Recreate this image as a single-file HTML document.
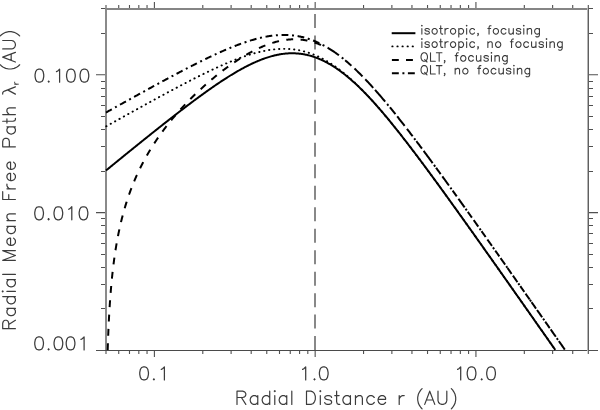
<!DOCTYPE html><html><head><meta charset="utf-8"><style>html,body{margin:0;padding:0;background:#fff;overflow:hidden}svg{display:block}text{font-family:"Liberation Sans",sans-serif;-webkit-font-smoothing:antialiased}svg{will-change:transform}</style></head><body>
<svg width="600" height="410" viewBox="0 0 600 410">
<rect width="600" height="410" fill="#fff"/>
<line x1="315" y1="13.9" x2="315" y2="350" stroke="#888" stroke-width="2" stroke-dasharray="14 7.48"/>
<path d="M154.40,350.5V357M154.40,9.0V2M315.16,350.5V357M315.16,9.0V2M475.93,350.5V357M475.93,9.0V2M106.00,350.5V354M106.00,9.0V5M118.73,350.5V354M118.73,9.0V5M129.49,350.5V354M129.49,9.0V5M138.82,350.5V354M138.82,9.0V5M147.04,350.5V354M147.04,9.0V5M202.79,350.5V354M202.79,9.0V5M231.10,350.5V354M231.10,9.0V5M251.19,350.5V354M251.19,9.0V5M266.77,350.5V354M266.77,9.0V5M279.50,350.5V354M279.50,9.0V5M290.26,350.5V354M290.26,9.0V5M299.58,350.5V354M299.58,9.0V5M307.81,350.5V354M307.81,9.0V5M363.56,350.5V354M363.56,9.0V5M391.87,350.5V354M391.87,9.0V5M411.95,350.5V354M411.95,9.0V5M427.53,350.5V354M427.53,9.0V5M440.26,350.5V354M440.26,9.0V5M451.03,350.5V354M451.03,9.0V5M460.35,350.5V354M460.35,9.0V5M468.57,350.5V354M468.57,9.0V5M524.32,350.5V354M524.32,9.0V5M552.63,350.5V354M552.63,9.0V5M572.72,350.5V354M572.72,9.0V5M588.30,350.5V354M588.30,9.0V5M106.0,350.50H96M588.3,350.50H598M106.0,212.64H96M588.3,212.64H598M106.0,74.78H96M588.3,74.78H598M106.0,308.50H101M588.3,308.50H593M106.0,284.50H101M588.3,284.50H593M106.0,267.50H101M588.3,267.50H593M106.0,254.50H101M588.3,254.50H593M106.0,243.50H101M588.3,243.50H593M106.0,233.50H101M588.3,233.50H593M106.0,225.50H101M588.3,225.50H593M106.0,218.50H101M588.3,218.50H593M106.0,171.50H101M588.3,171.50H593M106.0,146.50H101M588.3,146.50H593M106.0,129.50H101M588.3,129.50H593M106.0,116.50H101M588.3,116.50H593M106.0,105.50H101M588.3,105.50H593M106.0,96.50H101M588.3,96.50H593M106.0,88.50H101M588.3,88.50H593M106.0,81.50H101M588.3,81.50H593M106.0,33.50H101M588.3,33.50H593M106.0,8.50H101M588.3,8.50H593" stroke="#505050" stroke-width="1.1" fill="none"/>
<rect x="105" y="8" width="2" height="343" fill="#8a8a8a"/>
<rect x="105" y="8" width="484" height="2" fill="#858585"/>
<rect x="105" y="350" width="484" height="1" fill="#4a4a4a"/>
<rect x="587" y="8" width="1" height="343" fill="#b5b5b5"/>
<rect x="588" y="8" width="1" height="343" fill="#606060"/>
<path d="M106.00,170.47 L106.81,169.82 L107.61,169.16 L108.42,168.50 L109.22,167.85 L110.03,167.19 L110.83,166.53 L111.64,165.88 L112.44,165.22 L113.25,164.57 L114.05,163.91 L114.86,163.26 L115.66,162.60 L116.47,161.94 L117.27,161.29 L118.08,160.63 L118.88,159.98 L119.69,159.32 L120.49,158.67 L121.30,158.02 L122.10,157.36 L122.91,156.71 L123.71,156.05 L124.52,155.40 L125.32,154.75 L126.13,154.09 L126.93,153.44 L127.74,152.79 L128.54,152.14 L129.35,151.48 L130.16,150.83 L130.96,150.18 L131.77,149.53 L132.57,148.88 L133.38,148.23 L134.18,147.58 L134.99,146.93 L135.79,146.28 L136.60,145.63 L137.40,144.98 L138.21,144.33 L139.01,143.68 L139.82,143.03 L140.62,142.38 L141.43,141.73 L142.23,141.09 L143.04,140.44 L143.84,139.79 L144.65,139.15 L145.45,138.50 L146.26,137.85 L147.06,137.21 L147.87,136.56 L148.67,135.92 L149.48,135.27 L150.28,134.63 L151.09,133.99 L151.89,133.34 L152.70,132.70 L153.51,132.06 L154.31,131.42 L155.12,130.78 L155.92,130.13 L156.73,129.49 L157.53,128.85 L158.34,128.22 L159.14,127.58 L159.95,126.94 L160.75,126.30 L161.56,125.66 L162.36,125.03 L163.17,124.39 L163.97,123.76 L164.78,123.12 L165.58,122.49 L166.39,121.85 L167.19,121.22 L168.00,120.59 L168.80,119.96 L169.61,119.33 L170.41,118.70 L171.22,118.07 L172.02,117.44 L172.83,116.81 L173.63,116.18 L174.44,115.56 L175.25,114.93 L176.05,114.31 L176.86,113.69 L177.66,113.06 L178.47,112.44 L179.27,111.82 L180.08,111.20 L180.88,110.58 L181.69,109.96 L182.49,109.35 L183.30,108.73 L184.10,108.11 L184.91,107.50 L185.71,106.89 L186.52,106.28 L187.32,105.67 L188.13,105.06 L188.93,104.45 L189.74,103.84 L190.54,103.24 L191.35,102.63 L192.15,102.03 L192.96,101.43 L193.76,100.82 L194.57,100.23 L195.37,99.63 L196.18,99.03 L196.98,98.44 L197.79,97.84 L198.60,97.25 L199.40,96.66 L200.21,96.07 L201.01,95.48 L201.82,94.90 L202.62,94.32 L203.43,93.73 L204.23,93.15 L205.04,92.57 L205.84,92.00 L206.65,91.42 L207.45,90.85 L208.26,90.28 L209.06,89.71 L209.87,89.14 L210.67,88.58 L211.48,88.02 L212.28,87.46 L213.09,86.90 L213.89,86.34 L214.70,85.79 L215.50,85.24 L216.31,84.69 L217.11,84.14 L217.92,83.60 L218.72,83.05 L219.53,82.52 L220.33,81.98 L221.14,81.45 L221.95,80.92 L222.75,80.39 L223.56,79.86 L224.36,79.34 L225.17,78.82 L225.97,78.30 L226.78,77.79 L227.58,77.28 L228.39,76.77 L229.19,76.27 L230.00,75.77 L230.80,75.27 L231.61,74.78 L232.41,74.29 L233.22,73.80 L234.02,73.32 L234.83,72.84 L235.63,72.37 L236.44,71.89 L237.24,71.43 L238.05,70.96 L238.85,70.50 L239.66,70.05 L240.46,69.60 L241.27,69.15 L242.07,68.71 L242.88,68.27 L243.68,67.84 L244.49,67.41 L245.30,66.98 L246.10,66.57 L246.91,66.15 L247.71,65.74 L248.52,65.34 L249.32,64.94 L250.13,64.54 L250.93,64.15 L251.74,63.77 L252.54,63.39 L253.35,63.02 L254.15,62.65 L254.96,62.29 L255.76,61.93 L256.57,61.58 L257.37,61.24 L258.18,60.90 L258.98,60.57 L259.79,60.24 L260.59,59.92 L261.40,59.61 L262.20,59.30 L263.01,59.00 L263.81,58.71 L264.62,58.42 L265.42,58.14 L266.23,57.86 L267.04,57.60 L267.84,57.34 L268.65,57.09 L269.45,56.84 L270.26,56.60 L271.06,56.37 L271.87,56.15 L272.67,55.94 L273.48,55.73 L274.28,55.53 L275.09,55.34 L275.89,55.15 L276.70,54.98 L277.50,54.81 L278.31,54.65 L279.11,54.50 L279.92,54.36 L280.72,54.22 L281.53,54.10 L282.33,53.98 L283.14,53.87 L283.94,53.77 L284.75,53.68 L285.55,53.60 L286.36,53.53 L287.16,53.47 L287.97,53.41 L288.77,53.37 L289.58,53.33 L290.39,53.30 L291.19,53.29 L292.00,53.28 L292.80,53.28 L293.61,53.29 L294.41,53.31 L295.22,53.35 L296.02,53.39 L296.83,53.44 L297.63,53.50 L298.44,53.57 L299.24,53.65 L300.05,53.74 L300.85,53.84 L301.66,53.95 L302.46,54.07 L303.27,54.20 L304.07,54.34 L304.88,54.49 L305.68,54.65 L306.49,54.82 L307.29,55.00 L308.10,55.19 L308.90,55.40 L309.71,55.61 L310.51,55.83 L311.32,56.06 L312.12,56.31 L312.93,56.56 L313.74,56.82 L314.54,57.10 L315.35,57.38 L316.15,57.68 L316.96,57.98 L317.76,58.30 L318.57,58.62 L319.37,58.96 L320.18,59.30 L320.98,59.66 L321.79,60.02 L322.59,60.40 L323.40,60.79 L324.20,61.18 L325.01,61.59 L325.81,62.00 L326.62,62.43 L327.42,62.86 L328.23,63.31 L329.03,63.77 L329.84,64.23 L330.64,64.70 L331.45,65.19 L332.25,65.68 L333.06,66.18 L333.86,66.70 L334.67,67.22 L335.47,67.75 L336.28,68.29 L337.09,68.84 L337.89,69.40 L338.70,69.97 L339.50,70.54 L340.31,71.13 L341.11,71.72 L341.92,72.33 L342.72,72.94 L343.53,73.56 L344.33,74.19 L345.14,74.82 L345.94,75.47 L346.75,76.12 L347.55,76.78 L348.36,77.45 L349.16,78.13 L349.97,78.82 L350.77,79.51 L351.58,80.22 L352.38,80.93 L353.19,81.64 L353.99,82.37 L354.80,83.10 L355.60,83.84 L356.41,84.59 L357.21,85.34 L358.02,86.11 L358.83,86.88 L359.63,87.65 L360.44,88.44 L361.24,89.23 L362.05,90.03 L362.85,90.83 L363.66,91.64 L364.46,92.46 L365.27,93.28 L366.07,94.11 L366.88,94.95 L367.68,95.80 L368.49,96.65 L369.29,97.50 L370.10,98.36 L370.90,99.23 L371.71,100.11 L372.51,100.99 L373.32,101.87 L374.12,102.76 L374.93,103.66 L375.73,104.56 L376.54,105.47 L377.34,106.38 L378.15,107.30 L378.95,108.22 L379.76,109.15 L380.56,110.08 L381.37,111.02 L382.18,111.96 L382.98,112.91 L383.79,113.86 L384.59,114.81 L385.40,115.77 L386.20,116.74 L387.01,117.70 L387.81,118.67 L388.62,119.65 L389.42,120.63 L390.23,121.61 L391.03,122.60 L391.84,123.59 L392.64,124.58 L393.45,125.58 L394.25,126.58 L395.06,127.58 L395.86,128.58 L396.67,129.59 L397.47,130.61 L398.28,131.62 L399.08,132.64 L399.89,133.66 L400.69,134.68 L401.50,135.71 L402.30,136.74 L403.11,137.77 L403.91,138.80 L404.72,139.84 L405.53,140.88 L406.33,141.92 L407.14,142.96 L407.94,144.01 L408.75,145.06 L409.55,146.11 L410.36,147.16 L411.16,148.21 L411.97,149.27 L412.77,150.33 L413.58,151.39 L414.38,152.45 L415.19,153.52 L415.99,154.58 L416.80,155.65 L417.60,156.72 L418.41,157.79 L419.21,158.87 L420.02,159.94 L420.82,161.02 L421.63,162.10 L422.43,163.18 L423.24,164.26 L424.04,165.34 L424.85,166.43 L425.65,167.51 L426.46,168.60 L427.26,169.69 L428.07,170.78 L428.88,171.87 L429.68,172.96 L430.49,174.05 L431.29,175.15 L432.10,176.25 L432.90,177.34 L433.71,178.44 L434.51,179.54 L435.32,180.64 L436.12,181.75 L436.93,182.85 L437.73,183.95 L438.54,185.06 L439.34,186.16 L440.15,187.27 L440.95,188.38 L441.76,189.49 L442.56,190.60 L443.37,191.71 L444.17,192.82 L444.98,193.93 L445.78,195.05 L446.59,196.16 L447.39,197.27 L448.20,198.39 L449.00,199.51 L449.81,200.62 L450.62,201.74 L451.42,202.86 L452.23,203.98 L453.03,205.10 L453.84,206.22 L454.64,207.34 L455.45,208.46 L456.25,209.59 L457.06,210.71 L457.86,211.83 L458.67,212.96 L459.47,214.08 L460.28,215.21 L461.08,216.34 L461.89,217.46 L462.69,218.59 L463.50,219.72 L464.30,220.85 L465.11,221.97 L465.91,223.10 L466.72,224.23 L467.52,225.36 L468.33,226.49 L469.13,227.62 L469.94,228.76 L470.74,229.89 L471.55,231.02 L472.35,232.15 L473.16,233.29 L473.97,234.42 L474.77,235.55 L475.58,236.69 L476.38,237.82 L477.19,238.96 L477.99,240.09 L478.80,241.23 L479.60,242.36 L480.41,243.50 L481.21,244.64 L482.02,245.77 L482.82,246.91 L483.63,248.05 L484.43,249.18 L485.24,250.32 L486.04,251.46 L486.85,252.60 L487.65,253.74 L488.46,254.88 L489.26,256.02 L490.07,257.15 L490.87,258.29 L491.68,259.43 L492.48,260.57 L493.29,261.71 L494.09,262.86 L494.90,264.00 L495.70,265.14 L496.51,266.28 L497.32,267.42 L498.12,268.56 L498.93,269.70 L499.73,270.84 L500.54,271.99 L501.34,273.13 L502.15,274.27 L502.95,275.41 L503.76,276.56 L504.56,277.70 L505.37,278.84 L506.17,279.99 L506.98,281.13 L507.78,282.27 L508.59,283.42 L509.39,284.56 L510.20,285.70 L511.00,286.85 L511.81,287.99 L512.61,289.14 L513.42,290.28 L514.22,291.42 L515.03,292.57 L515.83,293.71 L516.64,294.86 L517.44,296.00 L518.25,297.15 L519.05,298.29 L519.86,299.44 L520.67,300.58 L521.47,301.73 L522.28,302.88 L523.08,304.02 L523.89,305.17 L524.69,306.31 L525.50,307.46 L526.30,308.61 L527.11,309.75 L527.91,310.90 L528.72,312.04 L529.52,313.19 L530.33,314.34 L531.13,315.48 L531.94,316.63 L532.74,317.78 L533.55,318.92 L534.35,320.07 L535.16,321.22 L535.96,322.36 L536.77,323.51 L537.57,324.66 L538.38,325.80 L539.18,326.95 L539.99,328.10 L540.79,329.25 L541.60,330.39 L542.41,331.54 L543.21,332.69 L544.02,333.83 L544.82,334.98 L545.63,336.13 L546.43,337.28 L547.24,338.43 L548.04,339.57 L548.85,340.72 L549.65,341.87 L550.46,343.02 L551.26,344.16 L552.07,345.31 L552.87,346.46 L553.68,347.61 L554.48,348.76 L555.29,349.90" stroke="#000" stroke-width="2" fill="none"/>
<path d="M106.00,126.43 L106.81,125.98 L107.61,125.53 L108.42,125.08 L109.22,124.63 L110.03,124.18 L110.83,123.74 L111.64,123.29 L112.44,122.84 L113.25,122.39 L114.05,121.94 L114.86,121.49 L115.66,121.04 L116.47,120.59 L117.27,120.14 L118.08,119.70 L118.88,119.25 L119.69,118.80 L120.49,118.35 L121.30,117.90 L122.10,117.46 L122.91,117.01 L123.71,116.56 L124.52,116.11 L125.32,115.67 L126.13,115.22 L126.93,114.77 L127.74,114.33 L128.54,113.88 L129.35,113.43 L130.16,112.99 L130.96,112.54 L131.77,112.09 L132.57,111.65 L133.38,111.20 L134.18,110.76 L134.99,110.31 L135.79,109.87 L136.60,109.42 L137.40,108.98 L138.21,108.53 L139.01,108.09 L139.82,107.65 L140.62,107.20 L141.43,106.76 L142.23,106.31 L143.04,105.87 L143.84,105.43 L144.65,104.99 L145.45,104.54 L146.26,104.10 L147.06,103.66 L147.87,103.22 L148.67,102.78 L149.48,102.34 L150.28,101.90 L151.09,101.46 L151.89,101.01 L152.70,100.58 L153.51,100.14 L154.31,99.70 L155.12,99.26 L155.92,98.82 L156.73,98.38 L157.53,97.94 L158.34,97.51 L159.14,97.07 L159.95,96.63 L160.75,96.20 L161.56,95.76 L162.36,95.33 L163.17,94.89 L163.97,94.46 L164.78,94.02 L165.58,93.59 L166.39,93.15 L167.19,92.72 L168.00,92.29 L168.80,91.86 L169.61,91.43 L170.41,91.00 L171.22,90.57 L172.02,90.14 L172.83,89.71 L173.63,89.28 L174.44,88.85 L175.25,88.42 L176.05,88.00 L176.86,87.57 L177.66,87.15 L178.47,86.72 L179.27,86.30 L180.08,85.87 L180.88,85.45 L181.69,85.03 L182.49,84.61 L183.30,84.19 L184.10,83.77 L184.91,83.35 L185.71,82.93 L186.52,82.51 L187.32,82.09 L188.13,81.68 L188.93,81.26 L189.74,80.85 L190.54,80.44 L191.35,80.02 L192.15,79.61 L192.96,79.20 L193.76,78.79 L194.57,78.39 L195.37,77.98 L196.18,77.57 L196.98,77.17 L197.79,76.76 L198.60,76.36 L199.40,75.96 L200.21,75.56 L201.01,75.16 L201.82,74.76 L202.62,74.36 L203.43,73.97 L204.23,73.57 L205.04,73.18 L205.84,72.79 L206.65,72.40 L207.45,72.01 L208.26,71.62 L209.06,71.24 L209.87,70.85 L210.67,70.47 L211.48,70.09 L212.28,69.71 L213.09,69.33 L213.89,68.96 L214.70,68.58 L215.50,68.21 L216.31,67.84 L217.11,67.47 L217.92,67.11 L218.72,66.74 L219.53,66.38 L220.33,66.02 L221.14,65.66 L221.95,65.30 L222.75,64.95 L223.56,64.60 L224.36,64.25 L225.17,63.90 L225.97,63.55 L226.78,63.21 L227.58,62.87 L228.39,62.53 L229.19,62.20 L230.00,61.86 L230.80,61.53 L231.61,61.20 L232.41,60.88 L233.22,60.56 L234.02,60.24 L234.83,59.92 L235.63,59.61 L236.44,59.30 L237.24,58.99 L238.05,58.69 L238.85,58.38 L239.66,58.09 L240.46,57.79 L241.27,57.50 L242.07,57.21 L242.88,56.93 L243.68,56.65 L244.49,56.37 L245.30,56.10 L246.10,55.83 L246.91,55.56 L247.71,55.30 L248.52,55.05 L249.32,54.79 L250.13,54.54 L250.93,54.30 L251.74,54.06 L252.54,53.82 L253.35,53.59 L254.15,53.36 L254.96,53.14 L255.76,52.92 L256.57,52.71 L257.37,52.50 L258.18,52.29 L258.98,52.09 L259.79,51.90 L260.59,51.71 L261.40,51.53 L262.20,51.35 L263.01,51.18 L263.81,51.01 L264.62,50.85 L265.42,50.69 L266.23,50.54 L267.04,50.40 L267.84,50.26 L268.65,50.12 L269.45,50.00 L270.26,49.88 L271.06,49.76 L271.87,49.65 L272.67,49.55 L273.48,49.46 L274.28,49.37 L275.09,49.29 L275.89,49.21 L276.70,49.14 L277.50,49.08 L278.31,49.02 L279.11,48.98 L279.92,48.94 L280.72,48.90 L281.53,48.88 L282.33,48.86 L283.14,48.85 L283.94,48.84 L284.75,48.85 L285.55,48.86 L286.36,48.88 L287.16,48.91 L287.97,48.94 L288.77,48.98 L289.58,49.04 L290.39,49.09 L291.19,49.16 L292.00,49.24 L292.80,49.32 L293.61,49.41 L294.41,49.52 L295.22,49.63 L296.02,49.74 L296.83,49.87 L297.63,50.01 L298.44,50.15 L299.24,50.30 L300.05,50.47 L300.85,50.64 L301.66,50.82 L302.46,51.00 L303.27,51.20 L304.07,51.41 L304.88,51.63 L305.68,51.85 L306.49,52.08 L307.29,52.33 L308.10,52.58 L308.90,52.84 L309.71,53.11 L310.51,53.39 L311.32,53.68 L312.12,53.98 L312.93,54.29 L313.74,54.61 L314.54,54.94 L315.35,55.27 L316.15,55.62 L316.96,55.98 L317.76,56.34 L318.57,56.72 L319.37,57.10 L320.18,57.49 L320.98,57.89 L321.79,58.31 L322.59,58.73 L323.40,59.16 L324.20,59.60 L325.01,60.05 L325.81,60.50 L326.62,60.97 L327.42,61.45 L328.23,61.93 L329.03,62.43 L329.84,62.93 L330.64,63.44 L331.45,63.97 L332.25,64.50 L333.06,65.04 L333.86,65.59 L334.67,66.14 L335.47,66.71 L336.28,67.28 L337.09,67.87 L337.89,68.46 L338.70,69.06 L339.50,69.67 L340.31,70.28 L341.11,70.91 L341.92,71.54 L342.72,72.18 L343.53,72.83 L344.33,73.49 L345.14,74.16 L345.94,74.83 L346.75,75.51 L347.55,76.20 L348.36,76.90 L349.16,77.60 L349.97,78.31 L350.77,79.03 L351.58,79.76 L352.38,80.49 L353.19,81.23 L353.99,81.98 L354.80,82.74 L355.60,83.50 L356.41,84.27 L357.21,85.04 L358.02,85.83 L358.83,86.61 L359.63,87.41 L360.44,88.21 L361.24,89.02 L362.05,89.83 L362.85,90.65 L363.66,91.48 L364.46,92.31 L365.27,93.15 L366.07,94.00 L366.88,94.85 L367.68,95.70 L368.49,96.56 L369.29,97.43 L370.10,98.30 L370.90,99.18 L371.71,100.06 L372.51,100.95 L373.32,101.84 L374.12,102.74 L374.93,103.64 L375.73,104.55 L376.54,105.47 L377.34,106.38 L378.15,107.30 L378.95,108.23 L379.76,109.16 L380.56,110.10 L381.37,111.04 L382.18,111.98 L382.98,112.93 L383.79,113.88 L384.59,114.84 L385.40,115.80 L386.20,116.76 L387.01,117.73 L387.81,118.70 L388.62,119.68 L389.42,120.65 L390.23,121.64 L391.03,122.62 L391.84,123.61 L392.64,124.60 L393.45,125.60 L394.25,126.60 L395.06,127.60 L395.86,128.61 L396.67,129.61 L397.47,130.63 L398.28,131.64 L399.08,132.66 L399.89,133.68 L400.69,134.70 L401.50,135.73 L402.30,136.75 L403.11,137.78 L403.91,138.82 L404.72,139.85 L405.53,140.89 L406.33,141.93 L407.14,142.98 L407.94,144.02 L408.75,145.07 L409.55,146.12 L410.36,147.17 L411.16,148.22 L411.97,149.28 L412.77,150.34 L413.58,151.40 L414.38,152.46 L415.19,153.52 L415.99,154.59 L416.80,155.66 L417.60,156.73 L418.41,157.80 L419.21,158.87 L420.02,159.95 L420.82,161.02 L421.63,162.10 L422.43,163.18 L423.24,164.26 L424.04,165.35 L424.85,166.43 L425.65,167.51 L426.46,168.60 L427.26,169.69 L428.07,170.78 L428.88,171.87 L429.68,172.96 L430.49,174.06 L431.29,175.15 L432.10,176.25 L432.90,177.35 L433.71,178.44 L434.51,179.54 L435.32,180.64 L436.12,181.75 L436.93,182.85 L437.73,183.95 L438.54,185.06 L439.34,186.16 L440.15,187.27 L440.95,188.38 L441.76,189.49 L442.56,190.60 L443.37,191.71 L444.17,192.82 L444.98,193.93 L445.78,195.05 L446.59,196.16 L447.39,197.28 L448.20,198.39 L449.00,199.51 L449.81,200.62 L450.62,201.74 L451.42,202.86 L452.23,203.98 L453.03,205.10 L453.84,206.22 L454.64,207.34 L455.45,208.47 L456.25,209.59 L457.06,210.71 L457.86,211.83 L458.67,212.96 L459.47,214.08 L460.28,215.21 L461.08,216.34 L461.89,217.46 L462.69,218.59 L463.50,219.72 L464.30,220.85 L465.11,221.97 L465.91,223.10 L466.72,224.23 L467.52,225.36 L468.33,226.49 L469.13,227.63 L469.94,228.76 L470.74,229.89 L471.55,231.02 L472.35,232.15 L473.16,233.29 L473.97,234.42 L474.77,235.55 L475.58,236.69 L476.38,237.82 L477.19,238.96 L477.99,240.09 L478.80,241.23 L479.60,242.36 L480.41,243.50 L481.21,244.64 L482.02,245.77 L482.82,246.91 L483.63,248.05 L484.43,249.18 L485.24,250.32 L486.04,251.46 L486.85,252.60 L487.65,253.74 L488.46,254.88 L489.26,256.02 L490.07,257.15 L490.87,258.29 L491.68,259.43 L492.48,260.57 L493.29,261.71 L494.09,262.86 L494.90,264.00 L495.70,265.14 L496.51,266.28 L497.32,267.42 L498.12,268.56 L498.93,269.70 L499.73,270.84 L500.54,271.99 L501.34,273.13 L502.15,274.27 L502.95,275.41 L503.76,276.56 L504.56,277.70 L505.37,278.84 L506.17,279.99 L506.98,281.13 L507.78,282.27 L508.59,283.42 L509.39,284.56 L510.20,285.70 L511.00,286.85 L511.81,287.99 L512.61,289.14 L513.42,290.28 L514.22,291.42 L515.03,292.57 L515.83,293.71 L516.64,294.86 L517.44,296.00 L518.25,297.15 L519.05,298.29 L519.86,299.44 L520.67,300.58 L521.47,301.73 L522.28,302.88 L523.08,304.02 L523.89,305.17 L524.69,306.31 L525.50,307.46 L526.30,308.61 L527.11,309.75 L527.91,310.90 L528.72,312.04 L529.52,313.19 L530.33,314.34 L531.13,315.48 L531.94,316.63 L532.74,317.78 L533.55,318.92 L534.35,320.07 L535.16,321.22 L535.96,322.36 L536.77,323.51 L537.57,324.66 L538.38,325.80 L539.18,326.95 L539.99,328.10 L540.79,329.25 L541.60,330.39 L542.41,331.54 L543.21,332.69 L544.02,333.83 L544.82,334.98 L545.63,336.13 L546.43,337.28 L547.24,338.43 L548.04,339.57 L548.85,340.72 L549.65,341.87 L550.46,343.02 L551.26,344.16 L552.07,345.31 L552.87,346.46 L553.68,347.61 L554.48,348.76 L555.29,349.90" stroke="#000" stroke-width="1.9" stroke-linecap="round" fill="none" stroke-dasharray="0.3 4.713" stroke-dashoffset="-0.324"/>
<path d="M107.67,350.50 L107.67,350.48 L107.68,350.40 L107.68,350.28 L107.69,350.11 L107.69,349.89 L107.70,349.62 L107.71,349.30 L107.72,348.94 L107.73,348.54 L107.75,348.08 L107.76,347.59 L107.78,347.05 L107.80,346.47 L107.82,345.85 L107.84,345.20 L107.87,344.50 L107.89,343.77 L107.92,343.00 L107.94,342.20 L107.97,341.37 L108.01,340.51 L108.04,339.62 L108.07,338.71 L108.11,337.76 L108.14,336.79 L108.18,335.80 L108.22,334.79 L108.26,333.76 L108.31,332.71 L108.35,331.64 L108.40,330.55 L108.44,329.45 L108.49,328.33 L108.54,327.21 L108.60,326.07 L108.65,324.92 L108.70,323.75 L108.76,322.58 L108.82,321.41 L108.88,320.22 L108.94,319.03 L109.00,317.83 L109.07,316.63 L109.13,315.43 L109.20,314.22 L109.27,313.01 L109.34,311.80 L109.41,310.58 L109.48,309.37 L109.56,308.15 L109.63,306.93 L109.71,305.72 L109.79,304.50 L109.87,303.29 L109.95,302.08 L110.03,300.87 L110.12,299.66 L110.21,298.46 L110.29,297.26 L110.38,296.06 L110.47,294.87 L110.57,293.68 L110.66,292.49 L110.76,291.31 L110.85,290.13 L110.95,288.95 L111.05,287.78 L111.15,286.62 L111.26,285.46 L111.36,284.30 L111.47,283.15 L111.58,282.01 L111.69,280.87 L111.80,279.73 L111.91,278.60 L112.02,277.48 L112.14,276.36 L112.25,275.25 L112.37,274.14 L112.49,273.04 L112.61,271.94 L112.74,270.85 L112.86,269.77 L112.99,268.69 L113.11,267.61 L113.24,266.55 L113.37,265.48 L113.50,264.42 L113.64,263.37 L113.77,262.33 L113.91,261.29 L114.05,260.25 L114.18,259.22 L114.33,258.20 L114.47,257.18 L114.61,256.17 L114.76,255.16 L114.90,254.16 L115.05,253.16 L115.20,252.17 L115.35,251.18 L115.51,250.20 L115.66,249.22 L115.82,248.25 L115.97,247.29 L116.13,246.33 L116.29,245.37 L116.45,244.42 L116.62,243.47 L116.78,242.53 L116.95,241.60 L117.12,240.67 L117.29,239.74 L117.46,238.82 L117.63,237.90 L117.80,236.99 L117.98,236.08 L118.16,235.18 L118.33,234.28 L118.51,233.39 L118.70,232.50 L118.88,231.61 L119.06,230.73 L119.25,229.86 L119.44,228.99 L119.63,228.12 L119.82,227.25 L120.01,226.40 L120.20,225.54 L120.40,224.69 L120.59,223.84 L120.79,223.00 L120.99,222.16 L121.19,221.32 L121.39,220.49 L121.60,219.67 L121.80,218.84 L122.01,218.02 L122.22,217.21 L122.43,216.39 L122.64,215.58 L122.85,214.78 L123.07,213.98 L123.28,213.18 L123.50,212.38 L123.72,211.59 L123.94,210.80 L124.16,210.02 L124.39,209.24 L124.61,208.46 L124.84,207.69 L125.07,206.91 L125.30,206.15 L125.53,205.38 L125.76,204.62 L125.99,203.86 L126.23,203.10 L126.47,202.35 L126.71,201.60 L126.95,200.85 L127.19,200.11 L127.43,199.37 L127.68,198.63 L127.92,197.90 L128.17,197.16 L128.42,196.43 L128.67,195.71 L128.92,194.98 L129.18,194.26 L129.43,193.54 L129.69,192.83 L129.95,192.11 L130.21,191.40 L130.47,190.69 L130.73,189.99 L130.99,189.28 L131.26,188.58 L131.53,187.89 L131.80,187.19 L132.07,186.50 L132.34,185.80 L132.61,185.12 L132.89,184.43 L133.16,183.74 L133.44,183.06 L133.72,182.38 L134.00,181.71 L134.28,181.03 L134.57,180.36 L134.85,179.69 L135.14,179.02 L135.43,178.35 L135.72,177.69 L136.01,177.02 L136.30,176.36 L136.59,175.70 L136.89,175.05 L137.19,174.39 L137.49,173.74 L137.79,173.09 L138.09,172.44 L138.39,171.80 L138.70,171.15 L139.00,170.51 L139.31,169.87 L139.62,169.23 L139.93,168.59 L140.24,167.95 L140.56,167.32 L140.87,166.69 L141.19,166.06 L141.51,165.43 L141.83,164.80 L142.15,164.18 L142.47,163.55 L142.80,162.93 L143.12,162.31 L143.45,161.69 L143.78,161.08 L144.11,160.46 L144.44,159.85 L144.78,159.23 L145.11,158.62 L145.45,158.01 L145.79,157.41 L146.13,156.80 L146.47,156.19 L146.81,155.59 L147.15,154.99 L147.50,154.39 L147.85,153.79 L148.19,153.19 L148.55,152.60 L148.90,152.00 L149.25,151.41 L149.60,150.81 L149.96,150.22 L150.32,149.63 L150.68,149.05 L151.04,148.46 L151.40,147.87 L151.76,147.29 L152.13,146.71 L152.50,146.12 L152.86,145.54 L153.23,144.96 L153.60,144.39 L153.98,143.81 L154.35,143.23 L154.73,142.66 L155.10,142.09 L155.48,141.51 L155.86,140.94 L156.24,140.37 L156.63,139.80 L157.01,139.24 L157.40,138.67 L157.79,138.10 L158.18,137.54 L158.57,136.98 L158.96,136.41 L159.35,135.85 L159.75,135.29 L160.14,134.73 L160.54,134.18 L160.94,133.62 L161.34,133.06 L161.75,132.51 L162.15,131.95 L162.56,131.40 L162.96,130.85 L163.37,130.30 L163.78,129.75 L164.19,129.20 L164.61,128.65 L165.02,128.10 L165.44,127.56 L165.86,127.01 L166.28,126.47 L166.70,125.92 L167.12,125.38 L167.54,124.84 L167.97,124.30 L168.40,123.76 L168.82,123.22 L169.25,122.68 L169.69,122.14 L170.12,121.61 L170.55,121.07 L170.99,120.54 L171.43,120.00 L171.86,119.47 L172.31,118.94 L172.75,118.41 L173.19,117.88 L173.64,117.35 L174.08,116.82 L174.53,116.29 L174.98,115.76 L175.43,115.24 L175.88,114.71 L176.34,114.18 L176.79,113.66 L177.25,113.14 L177.71,112.61 L178.17,112.09 L178.63,111.57 L179.09,111.05 L179.56,110.53 L180.02,110.01 L180.49,109.50 L180.96,108.98 L181.43,108.46 L181.90,107.95 L182.38,107.43 L182.85,106.92 L183.33,106.40 L183.81,105.89 L184.28,105.38 L184.77,104.87 L185.25,104.36 L185.73,103.85 L186.22,103.34 L186.71,102.83 L187.19,102.32 L187.68,101.82 L188.18,101.31 L188.67,100.80 L189.16,100.30 L189.66,99.80 L190.16,99.29 L190.66,98.79 L191.16,98.29 L191.66,97.79 L192.16,97.29 L192.67,96.79 L193.17,96.29 L193.68,95.79 L194.19,95.29 L194.70,94.80 L195.22,94.30 L195.73,93.81 L196.25,93.31 L196.76,92.82 L197.28,92.33 L197.80,91.83 L198.32,91.34 L198.85,90.85 L199.37,90.36 L199.90,89.88 L200.43,89.39 L200.96,88.90 L201.49,88.41 L202.02,87.93 L202.55,87.44 L203.09,86.96 L203.62,86.48 L204.16,85.99 L204.70,85.51 L205.24,85.03 L205.79,84.55 L206.33,84.07 L206.88,83.60 L207.42,83.12 L207.97,82.64 L208.52,82.17 L209.08,81.69 L209.63,81.22 L210.18,80.75 L210.74,80.28 L211.30,79.81 L211.86,79.34 L212.42,78.87 L212.98,78.40 L213.54,77.93 L214.11,77.47 L214.68,77.00 L215.24,76.54 L215.81,76.08 L216.39,75.62 L216.96,75.16 L217.53,74.70 L218.11,74.24 L218.69,73.78 L219.27,73.33 L219.85,72.87 L220.43,72.42 L221.01,71.97 L221.60,71.52 L222.18,71.07 L222.77,70.62 L223.36,70.17 L223.95,69.73 L224.54,69.28 L225.14,68.84 L225.73,68.40 L226.33,67.96 L226.93,67.52 L227.53,67.08 L228.13,66.65 L228.73,66.21 L229.34,65.78 L229.94,65.35 L230.55,64.92 L231.16,64.50 L231.77,64.07 L232.38,63.65 L233.00,63.22 L233.61,62.80 L234.23,62.38 L234.85,61.97 L235.47,61.55 L236.09,61.14 L236.71,60.73 L237.33,60.32 L237.96,59.91 L238.59,59.51 L239.22,59.10 L239.85,58.70 L240.48,58.30 L241.11,57.91 L241.75,57.51 L242.38,57.12 L243.02,56.73 L243.66,56.34 L244.30,55.96 L244.94,55.58 L245.59,55.20 L246.23,54.82 L246.88,54.45 L247.53,54.08 L248.17,53.71 L248.83,53.34 L249.48,52.98 L250.13,52.62 L250.79,52.26 L251.45,51.91 L252.10,51.56 L252.77,51.21 L253.43,50.87 L254.09,50.53 L254.75,50.19 L255.42,49.85 L256.09,49.52 L256.76,49.20 L257.43,48.87 L258.10,48.55 L258.78,48.24 L259.45,47.93 L260.13,47.62 L260.81,47.32 L261.49,47.02 L262.17,46.72 L262.85,46.43 L263.53,46.14 L264.22,45.86 L264.91,45.58 L265.60,45.31 L266.29,45.04 L266.98,44.78 L267.67,44.52 L268.37,44.27 L269.06,44.02 L269.76,43.77 L270.46,43.54 L271.16,43.30 L271.86,43.08 L272.57,42.85 L273.27,42.64 L273.98,42.43 L274.69,42.22 L275.40,42.02 L276.11,41.83 L276.82,41.65 L277.54,41.46 L278.25,41.29 L278.97,41.12 L279.69,40.96 L280.41,40.81 L281.13,40.66 L281.86,40.52 L282.58,40.39 L283.31,40.26 L284.04,40.14 L284.76,40.03 L285.50,39.92 L286.23,39.83 L286.96,39.74 L287.70,39.66 L288.43,39.58 L289.17,39.52 L289.91,39.46 L290.66,39.41 L291.40,39.37 L292.14,39.33 L292.89,39.31 L293.64,39.29 L294.39,39.29 L295.14,39.29 L295.89,39.30 L296.64,39.32 L297.40,39.35 L298.15,39.39 L298.91,39.43 L299.67,39.49 L300.43,39.56 L301.20,39.63 L301.96,39.72 L302.72,39.82 L303.49,39.92 L304.26,40.04 L305.03,40.16 L305.80,40.30 L306.58,40.45 L307.35,40.60 L308.13,40.77 L308.90,40.95 L309.68,41.14 L310.46,41.33 L311.25,41.54 L312.03,41.76 L312.82,42.00 L313.60,42.24 L314.39,42.49 L315.18,42.76 L315.97,43.03 L316.76,43.32 L317.56,43.62 L318.35,43.92 L319.15,44.25 L319.95,44.58 L320.75,44.92 L321.55,45.28 L322.36,45.64 L323.16,46.02 L323.97,46.41 L324.77,46.81 L325.58,47.22 L326.39,47.64" stroke="#000" stroke-width="2" fill="none" stroke-dasharray="6.9 7.417" stroke-dashoffset="-0.43"/>
<path d="M106.00,112.53 L106.81,112.08 L107.61,111.63 L108.42,111.18 L109.22,110.73 L110.03,110.28 L110.83,109.84 L111.64,109.39 L112.44,108.94 L113.25,108.49 L114.05,108.04 L114.86,107.59 L115.66,107.14 L116.47,106.69 L117.27,106.24 L118.08,105.80 L118.88,105.35 L119.69,104.90 L120.49,104.45 L121.30,104.00 L122.10,103.56 L122.91,103.11 L123.71,102.66 L124.52,102.21 L125.32,101.77 L126.13,101.32 L126.93,100.87 L127.74,100.43 L128.54,99.98 L129.35,99.53 L130.16,99.09 L130.96,98.64 L131.77,98.19 L132.57,97.75 L133.38,97.30 L134.18,96.86 L134.99,96.41 L135.79,95.97 L136.60,95.52 L137.40,95.08 L138.21,94.63 L139.01,94.19 L139.82,93.75 L140.62,93.30 L141.43,92.86 L142.23,92.41 L143.04,91.97 L143.84,91.53 L144.65,91.09 L145.45,90.64 L146.26,90.20 L147.06,89.76 L147.87,89.32 L148.67,88.88 L149.48,88.44 L150.28,88.00 L151.09,87.56 L151.89,87.11 L152.70,86.68 L153.51,86.24 L154.31,85.80 L155.12,85.36 L155.92,84.92 L156.73,84.48 L157.53,84.04 L158.34,83.61 L159.14,83.17 L159.95,82.73 L160.75,82.30 L161.56,81.86 L162.36,81.43 L163.17,80.99 L163.97,80.56 L164.78,80.12 L165.58,79.69 L166.39,79.25 L167.19,78.82 L168.00,78.39 L168.80,77.96 L169.61,77.53 L170.41,77.10 L171.22,76.67 L172.02,76.24 L172.83,75.81 L173.63,75.38 L174.44,74.95 L175.25,74.52 L176.05,74.10 L176.86,73.67 L177.66,73.25 L178.47,72.82 L179.27,72.40 L180.08,71.97 L180.88,71.55 L181.69,71.13 L182.49,70.71 L183.30,70.29 L184.10,69.87 L184.91,69.45 L185.71,69.03 L186.52,68.61 L187.32,68.19 L188.13,67.78 L188.93,67.36 L189.74,66.95 L190.54,66.54 L191.35,66.12 L192.15,65.71 L192.96,65.30 L193.76,64.89 L194.57,64.49 L195.37,64.08 L196.18,63.67 L196.98,63.27 L197.79,62.86 L198.60,62.46 L199.40,62.06 L200.21,61.66 L201.01,61.26 L201.82,60.86 L202.62,60.46 L203.43,60.07 L204.23,59.67 L205.04,59.28 L205.84,58.89 L206.65,58.50 L207.45,58.11 L208.26,57.72 L209.06,57.34 L209.87,56.95 L210.67,56.57 L211.48,56.19 L212.28,55.81 L213.09,55.43 L213.89,55.06 L214.70,54.68 L215.50,54.31 L216.31,53.94 L217.11,53.57 L217.92,53.21 L218.72,52.84 L219.53,52.48 L220.33,52.12 L221.14,51.76 L221.95,51.40 L222.75,51.05 L223.56,50.70 L224.36,50.35 L225.17,50.00 L225.97,49.65 L226.78,49.31 L227.58,48.97 L228.39,48.63 L229.19,48.30 L230.00,47.96 L230.80,47.63 L231.61,47.30 L232.41,46.98 L233.22,46.66 L234.02,46.34 L234.83,46.02 L235.63,45.71 L236.44,45.40 L237.24,45.09 L238.05,44.79 L238.85,44.48 L239.66,44.19 L240.46,43.89 L241.27,43.60 L242.07,43.31 L242.88,43.03 L243.68,42.75 L244.49,42.47 L245.30,42.20 L246.10,41.93 L246.91,41.66 L247.71,41.40 L248.52,41.15 L249.32,40.89 L250.13,40.64 L250.93,40.40 L251.74,40.16 L252.54,39.92 L253.35,39.69 L254.15,39.46 L254.96,39.24 L255.76,39.02 L256.57,38.81 L257.37,38.60 L258.18,38.39 L258.98,38.19 L259.79,38.00 L260.59,37.81 L261.40,37.63 L262.20,37.45 L263.01,37.28 L263.81,37.11 L264.62,36.95 L265.42,36.79 L266.23,36.64 L267.04,36.50 L267.84,36.36 L268.65,36.22 L269.45,36.10 L270.26,35.98 L271.06,35.86 L271.87,35.75 L272.67,35.65 L273.48,35.56 L274.28,35.47 L275.09,35.39 L275.89,35.31 L276.70,35.24 L277.50,35.18 L278.31,35.12 L279.11,35.08 L279.92,35.04 L280.72,35.00 L281.53,34.98 L282.33,34.96 L283.14,34.95 L283.94,34.94 L284.75,34.95 L285.55,34.96 L286.36,34.98 L287.16,35.01 L287.97,35.04 L288.77,35.08 L289.58,35.14 L290.39,35.19 L291.19,35.26 L292.00,35.34 L292.80,35.42 L293.61,35.51 L294.41,35.62 L295.22,35.73 L296.02,35.84 L296.83,35.97 L297.63,36.11 L298.44,36.25 L299.24,36.40 L300.05,36.57 L300.85,36.74 L301.66,36.92 L302.46,37.10 L303.27,37.30 L304.07,37.51 L304.88,37.73 L305.68,37.95 L306.49,38.18 L307.29,38.43 L308.10,38.68 L308.90,38.94 L309.71,39.21 L310.51,39.49 L311.32,39.78 L312.12,40.08 L312.93,40.39 L313.74,40.71 L314.54,41.04 L315.35,41.37 L316.15,41.72 L316.96,42.08 L317.76,42.44 L318.57,42.82 L319.37,43.20 L320.18,43.59 L320.98,43.99 L321.79,44.41 L322.59,44.83 L323.40,45.26 L324.20,45.70 L325.01,46.15 L325.81,46.60" stroke="#000" stroke-width="2" fill="none" stroke-dasharray="6.8 3.66 2.0 3.66" stroke-dashoffset="0.11"/>
<path d="M326.62,47.07 L327.42,47.55 L328.23,48.03 L329.03,48.53 L329.84,49.03 L330.64,49.54 L331.45,50.07 L332.25,50.60 L333.06,51.14 L333.86,51.69 L334.67,52.24 L335.47,52.81 L336.28,53.38 L337.09,53.97 L337.89,54.56 L338.70,55.16 L339.50,55.77 L340.31,56.38 L341.11,57.01 L341.92,57.64 L342.72,58.28 L343.53,58.93 L344.33,59.59 L345.14,60.26 L345.94,60.93 L346.75,61.61 L347.55,62.30 L348.36,63.00 L349.16,63.70 L349.97,64.41 L350.77,65.13 L351.58,65.86 L352.38,66.59 L353.19,67.33 L353.99,68.08 L354.80,68.84 L355.60,69.60 L356.41,70.37 L357.21,71.14 L358.02,71.93 L358.83,72.71 L359.63,73.51 L360.44,74.31 L361.24,75.12 L362.05,75.93 L362.85,76.75 L363.66,77.58 L364.46,78.41 L365.27,79.25 L366.07,80.10 L366.88,80.95 L367.68,81.80 L368.49,82.66 L369.29,83.53 L370.10,84.40 L370.90,85.28 L371.71,86.16 L372.51,87.05 L373.32,87.94 L374.12,88.84 L374.93,89.74 L375.73,90.65 L376.54,91.57 L377.34,92.48 L378.15,93.40 L378.95,94.33 L379.76,95.26 L380.56,96.20 L381.37,97.14 L382.18,98.08 L382.98,99.03 L383.79,99.98 L384.59,100.94 L385.40,101.90 L386.20,102.86 L387.01,103.83 L387.81,104.80 L388.62,105.78 L389.42,106.75 L390.23,107.74 L391.03,108.72 L391.84,109.71 L392.64,110.70 L393.45,111.70 L394.25,112.70 L395.06,113.70 L395.86,114.71 L396.67,115.71 L397.47,116.73 L398.28,117.74 L399.08,118.76 L399.89,119.78 L400.69,120.80 L401.50,121.83 L402.30,122.85 L403.11,123.88 L403.91,124.92 L404.72,125.95 L405.53,126.99 L406.33,128.03 L407.14,129.08 L407.94,130.12 L408.75,131.17 L409.55,132.22 L410.36,133.27 L411.16,134.32 L411.97,135.38 L412.77,136.44 L413.58,137.50 L414.38,138.56 L415.19,139.62 L415.99,140.69 L416.80,141.76 L417.60,142.83 L418.41,143.90 L419.21,144.97 L420.02,146.05 L420.82,147.12 L421.63,148.20 L422.43,149.28 L423.24,150.36 L424.04,151.45 L424.85,152.53 L425.65,153.61 L426.46,154.70 L427.26,155.79 L428.07,156.88 L428.88,157.97 L429.68,159.06 L430.49,160.16 L431.29,161.25 L432.10,162.35 L432.90,163.45 L433.71,164.54 L434.51,165.64 L435.32,166.74 L436.12,167.85 L436.93,168.95 L437.73,170.05 L438.54,171.16 L439.34,172.26 L440.15,173.37 L440.95,174.48 L441.76,175.59 L442.56,176.70 L443.37,177.81 L444.17,178.92 L444.98,180.03 L445.78,181.15 L446.59,182.26 L447.39,183.38 L448.20,184.49 L449.00,185.61 L449.81,186.72 L450.62,187.84 L451.42,188.96 L452.23,190.08 L453.03,191.20 L453.84,192.32 L454.64,193.44 L455.45,194.57 L456.25,195.69 L457.06,196.81 L457.86,197.93 L458.67,199.06 L459.47,200.18 L460.28,201.31 L461.08,202.44 L461.89,203.56 L462.69,204.69 L463.50,205.82 L464.30,206.95 L465.11,208.07 L465.91,209.20 L466.72,210.33 L467.52,211.46 L468.33,212.59 L469.13,213.73 L469.94,214.86 L470.74,215.99 L471.55,217.12 L472.35,218.25 L473.16,219.39 L473.97,220.52 L474.77,221.65 L475.58,222.79 L476.38,223.92 L477.19,225.06 L477.99,226.19 L478.80,227.33 L479.60,228.46 L480.41,229.60 L481.21,230.74 L482.02,231.87 L482.82,233.01 L483.63,234.15 L484.43,235.28 L485.24,236.42 L486.04,237.56 L486.85,238.70 L487.65,239.84 L488.46,240.98 L489.26,242.12 L490.07,243.25 L490.87,244.39 L491.68,245.53 L492.48,246.67 L493.29,247.81 L494.09,248.96 L494.90,250.10 L495.70,251.24 L496.51,252.38 L497.32,253.52 L498.12,254.66 L498.93,255.80 L499.73,256.94 L500.54,258.09 L501.34,259.23 L502.15,260.37 L502.95,261.51 L503.76,262.66 L504.56,263.80 L505.37,264.94 L506.17,266.09 L506.98,267.23 L507.78,268.37 L508.59,269.52 L509.39,270.66 L510.20,271.80 L511.00,272.95 L511.81,274.09 L512.61,275.24 L513.42,276.38 L514.22,277.52 L515.03,278.67 L515.83,279.81 L516.64,280.96 L517.44,282.10 L518.25,283.25 L519.05,284.39 L519.86,285.54 L520.67,286.68 L521.47,287.83 L522.28,288.98 L523.08,290.12 L523.89,291.27 L524.69,292.41 L525.50,293.56 L526.30,294.71 L527.11,295.85 L527.91,297.00 L528.72,298.14 L529.52,299.29 L530.33,300.44 L531.13,301.58 L531.94,302.73 L532.74,303.88 L533.55,305.02 L534.35,306.17 L535.16,307.32 L535.96,308.46 L536.77,309.61 L537.57,310.76 L538.38,311.90 L539.18,313.05 L539.99,314.20 L540.79,315.35 L541.60,316.49 L542.41,317.64 L543.21,318.79 L544.02,319.93 L544.82,321.08 L545.63,322.23 L546.43,323.38 L547.24,324.53 L548.04,325.67 L548.85,326.82 L549.65,327.97 L550.46,329.12 L551.26,330.26 L552.07,331.41 L552.87,332.56 L553.68,333.71 L554.48,334.86 L555.29,336.00 L556.09,337.15 L556.90,338.30 L557.70,339.45 L558.51,340.60 L559.31,341.74 L560.12,342.89 L560.92,344.04 L561.73,345.19 L562.53,346.34 L563.34,347.49 L564.14,348.63 L564.95,349.78" stroke="#000" stroke-width="2" fill="none" stroke-dasharray="0 1.16 13.64 3.68 2.00 2.35 8.24 4.17 11.26 3.95 11.71 2.75 15.43 3.16 2.00 2.24 8.87 2.74 12.12 3.77 9.37 2.56 2.00 1.57 9.33 2.84 15.16 2.30 2.00 1.45 7.82 2.88 11.28 2.50 2.00 1.82 7.05 2.90 10.68 1.66 2.00 1.83 7.09 2.92 7.97 2.36 2.00 1.33 7.12 3.10 7.82 1.85 2.00 1.85 7.13 2.06 8.01 1.85 2.00 0.29 7.14 2.24 7.84 1.51 2.00 1.34 7.15 2.07 7.15 0.47 2.00 0.82 7.85 1.72 8.90 1.69 2.00 1.69 7.86 1.54 9.08 1.69 2.00 1.51 10.39 1000.00"/>
<path d="M38.78,69.13 L36.92,69.75 L35.68,71.61 L35.06,74.71 L35.06,76.57 L35.68,79.67 L36.92,81.53 L38.78,82.15 L40.02,82.15 L41.88,81.53 L43.12,79.67 L43.74,76.57 L43.74,74.71 L43.12,71.61 L41.88,69.75 L40.02,69.13 L38.78,69.13M48.70,81.10 L48.20,81.59 L48.70,82.09 L49.20,81.59 L48.70,81.10M56.50,71.61 L57.74,70.99 L59.60,69.13 L59.60,82.15M70.28,69.13 L68.42,69.75 L67.18,71.61 L66.56,74.71 L66.56,76.57 L67.18,79.67 L68.42,81.53 L70.28,82.15 L71.52,82.15 L73.38,81.53 L74.62,79.67 L75.24,76.57 L75.24,74.71 L74.62,71.61 L73.38,69.75 L71.52,69.13 L70.28,69.13M83.78,69.13 L81.92,69.75 L80.68,71.61 L80.06,74.71 L80.06,76.57 L80.68,79.67 L81.92,81.53 L83.78,82.15 L85.02,82.15 L86.88,81.53 L88.12,79.67 L88.74,76.57 L88.74,74.71 L88.12,71.61 L86.88,69.75 L85.02,69.13 L83.78,69.13M38.48,206.78 L36.62,207.40 L35.38,209.26 L34.76,212.36 L34.76,214.22 L35.38,217.32 L36.62,219.18 L38.48,219.80 L39.72,219.80 L41.58,219.18 L42.82,217.32 L43.44,214.22 L43.44,212.36 L42.82,209.26 L41.58,207.40 L39.72,206.78 L38.48,206.78M48.60,218.75 L48.10,219.24 L48.60,219.74 L49.10,219.24 L48.60,218.75M57.73,206.78 L55.87,207.40 L54.63,209.26 L54.01,212.36 L54.01,214.22 L54.63,217.32 L55.87,219.18 L57.73,219.80 L58.97,219.80 L60.83,219.18 L62.07,217.32 L62.69,214.22 L62.69,212.36 L62.07,209.26 L60.83,207.40 L58.97,206.78 L57.73,206.78M68.70,209.26 L69.94,208.64 L71.80,206.78 L71.80,219.80M82.88,206.78 L81.02,207.40 L79.78,209.26 L79.16,212.36 L79.16,214.22 L79.78,217.32 L81.02,219.18 L82.88,219.80 L84.12,219.80 L85.98,219.18 L87.22,217.32 L87.84,214.22 L87.84,212.36 L87.22,209.26 L85.98,207.40 L84.12,206.78 L82.88,206.78M38.48,336.88 L36.62,337.50 L35.38,339.36 L34.76,342.46 L34.76,344.32 L35.38,347.42 L36.62,349.28 L38.48,349.90 L39.72,349.90 L41.58,349.28 L42.82,347.42 L43.44,344.32 L43.44,342.46 L42.82,339.36 L41.58,337.50 L39.72,336.88 L38.48,336.88M48.60,348.85 L48.10,349.34 L48.60,349.84 L49.10,349.34 L48.60,348.85M57.78,336.88 L55.92,337.50 L54.68,339.36 L54.06,342.46 L54.06,344.32 L54.68,347.42 L55.92,349.28 L57.78,349.90 L59.02,349.90 L60.88,349.28 L62.12,347.42 L62.74,344.32 L62.74,342.46 L62.12,339.36 L60.88,337.50 L59.02,336.88 L57.78,336.88M69.93,336.88 L68.07,337.50 L66.83,339.36 L66.21,342.46 L66.21,344.32 L66.83,347.42 L68.07,349.28 L69.93,349.90 L71.17,349.90 L73.03,349.28 L74.27,347.42 L74.89,344.32 L74.89,342.46 L74.27,339.36 L73.03,337.50 L71.17,336.88 L69.93,336.88M81.00,339.36 L82.24,338.74 L84.10,336.88 L84.10,349.90M143.48,366.88 L141.62,367.50 L140.38,369.36 L139.76,372.46 L139.76,374.32 L140.38,377.42 L141.62,379.28 L143.48,379.90 L144.72,379.90 L146.58,379.28 L147.82,377.42 L148.44,374.32 L148.44,372.46 L147.82,369.36 L146.58,367.50 L144.72,366.88 L143.48,366.88M153.90,378.85 L153.40,379.34 L153.90,379.84 L154.40,379.34 L153.90,378.85M161.30,369.36 L162.54,368.74 L164.40,366.88 L164.40,379.90M302.60,369.36 L303.84,368.74 L305.70,366.88 L305.70,379.90M314.50,378.85 L314.00,379.34 L314.50,379.84 L315.00,379.34 L314.50,378.85M323.13,366.88 L321.27,367.50 L320.03,369.36 L319.41,372.46 L319.41,374.32 L320.03,377.42 L321.27,379.28 L323.13,379.90 L324.37,379.90 L326.23,379.28 L327.47,377.42 L328.09,374.32 L328.09,372.46 L327.47,369.36 L326.23,367.50 L324.37,366.88 L323.13,366.88M457.60,369.36 L458.84,368.74 L460.70,366.88 L460.70,379.90M470.93,366.88 L469.07,367.50 L467.83,369.36 L467.21,372.46 L467.21,374.32 L467.83,377.42 L469.07,379.28 L470.93,379.90 L472.17,379.90 L474.03,379.28 L475.27,377.42 L475.89,374.32 L475.89,372.46 L475.27,369.36 L474.03,367.50 L472.17,366.88 L470.93,366.88M481.70,378.85 L481.20,379.34 L481.70,379.84 L482.20,379.34 L481.70,378.85M490.43,366.88 L488.57,367.50 L487.33,369.36 L486.71,372.46 L486.71,374.32 L487.33,377.42 L488.57,379.28 L490.43,379.90 L491.67,379.90 L493.53,379.28 L494.77,377.42 L495.39,374.32 L495.39,372.46 L494.77,369.36 L493.53,367.50 L491.67,366.88 L490.43,366.88" fill="none" stroke="#3c3c3c" stroke-width="1.25" stroke-linecap="round" stroke-linejoin="round"/>
<g fill="none" stroke-linecap="round" stroke-linejoin="round">
<path d="M237.00,391.19 L237.00,404.40M237.00,391.19 L242.66,391.19 L244.55,391.82 L245.18,392.45 L245.81,393.71 L245.81,394.96 L245.18,396.22 L244.55,396.85 L242.66,397.48 L237.00,397.48M241.40,397.48 L245.81,404.40M257.77,395.59 L257.77,404.40M257.77,397.48 L256.51,396.22 L255.26,395.59 L253.37,395.59 L252.11,396.22 L250.85,397.48 L250.22,399.37 L250.22,400.63 L250.85,402.51 L252.11,403.77 L253.37,404.40 L255.26,404.40 L256.51,403.77 L257.77,402.51M269.74,391.19 L269.74,404.40M269.74,397.48 L268.48,396.22 L267.22,395.59 L265.34,395.59 L264.08,396.22 L262.82,397.48 L262.19,399.37 L262.19,400.63 L262.82,402.51 L264.08,403.77 L265.34,404.40 L267.22,404.40 L268.48,403.77 L269.74,402.51M274.28,391.19 L274.79,391.69 L275.29,391.19 L274.79,390.69 L274.28,391.19M274.79,395.59 L274.79,404.40M286.75,395.59 L286.75,404.40M286.75,397.48 L285.49,396.22 L284.24,395.59 L282.35,395.59 L281.09,396.22 L279.83,397.48 L279.20,399.37 L279.20,400.63 L279.83,402.51 L281.09,403.77 L282.35,404.40 L284.24,404.40 L285.49,403.77 L286.75,402.51M291.80,391.19 L291.80,404.40" stroke="#3c3c3c" stroke-width="1.2"/>
<path d="M306.50,391.19 L306.50,404.40M306.50,391.19 L310.90,391.19 L312.79,391.82 L314.05,393.08 L314.68,394.34 L315.31,396.22 L315.31,399.37 L314.68,401.25 L314.05,402.51 L312.79,403.77 L310.90,404.40 L306.50,404.40M319.81,391.19 L320.32,391.69 L320.82,391.19 L320.32,390.69 L319.81,391.19M320.32,395.59 L320.32,404.40M331.62,397.48 L330.99,396.22 L329.10,395.59 L327.21,395.59 L325.33,396.22 L324.70,397.48 L325.33,398.74 L326.58,399.37 L329.73,400.00 L330.99,400.63 L331.62,401.88 L331.62,402.51 L330.99,403.77 L329.10,404.40 L327.21,404.40 L325.33,403.77 L324.70,402.51M336.63,391.19 L336.63,401.88 L337.26,403.77 L338.51,404.40 L339.77,404.40M334.74,395.59 L339.14,395.59M350.44,395.59 L350.44,404.40M350.44,397.48 L349.18,396.22 L347.93,395.59 L346.04,395.59 L344.78,396.22 L343.52,397.48 L342.89,399.37 L342.89,400.63 L343.52,402.51 L344.78,403.77 L346.04,404.40 L347.93,404.40 L349.18,403.77 L350.44,402.51M355.45,395.59 L355.45,404.40M355.45,398.11 L357.34,396.22 L358.60,395.59 L360.48,395.59 L361.74,396.22 L362.37,398.11 L362.37,404.40M374.30,397.48 L373.04,396.22 L371.78,395.59 L369.90,395.59 L368.64,396.22 L367.38,397.48 L366.75,399.37 L366.75,400.63 L367.38,402.51 L368.64,403.77 L369.90,404.40 L371.78,404.40 L373.04,403.77 L374.30,402.51M378.05,399.37 L385.60,399.37 L385.60,398.11 L384.97,396.85 L384.34,396.22 L383.08,395.59 L381.20,395.59 L379.94,396.22 L378.68,397.48 L378.05,399.37 L378.05,400.63 L378.68,402.51 L379.94,403.77 L381.20,404.40 L383.08,404.40 L384.34,403.77 L385.60,402.51" stroke="#3c3c3c" stroke-width="1.2"/>
<path d="M399.20,395.59 L399.20,404.40M399.20,399.37 L399.83,397.48 L401.09,396.22 L402.35,395.59 L404.23,395.59" stroke="#3c3c3c" stroke-width="1.2"/>
<path d="M422.10,388.67 L420.85,389.93 L419.59,391.82 L418.33,394.34 L417.70,397.48 L417.70,400.00 L418.33,403.14 L419.59,405.66 L420.85,407.54 L422.10,408.80M429.74,391.19 L424.71,404.40M429.74,391.19 L434.77,404.40M426.59,400.00 L432.88,400.00M438.00,391.19 L438.00,400.63 L438.63,402.51 L439.89,403.77 L441.78,404.40 L443.03,404.40 L444.92,403.77 L446.18,402.51 L446.81,400.63 L446.81,391.19M451.30,388.67 L452.56,389.93 L453.81,391.82 L455.07,394.34 L455.70,397.48 L455.70,400.00 L455.07,403.14 L453.81,405.66 L452.56,407.54 L451.30,408.80" stroke="#3c3c3c" stroke-width="1.2"/>
<path d="M421.55,25.70 L421.87,26.02 L422.19,25.70 L421.87,25.38 L421.55,25.70M421.87,28.50 L421.87,34.10M429.35,29.70 L428.95,28.90 L427.75,28.50 L426.55,28.50 L425.35,28.90 L424.95,29.70 L425.35,30.50 L426.15,30.90 L428.15,31.30 L428.95,31.70 L429.35,32.50 L429.35,32.90 L428.95,33.70 L427.75,34.10 L426.55,34.10 L425.35,33.70 L424.95,32.90M434.04,28.50 L433.24,28.90 L432.44,29.70 L432.04,30.90 L432.04,31.70 L432.44,32.90 L433.24,33.70 L434.04,34.10 L435.24,34.10 L436.04,33.70 L436.84,32.90 L437.24,31.70 L437.24,30.90 L436.84,29.70 L436.04,28.90 L435.24,28.50 L434.04,28.50M440.72,25.70 L440.72,32.50 L441.12,33.70 L441.92,34.10 L442.72,34.10M439.52,28.50 L442.32,28.50M445.01,28.50 L445.01,34.10M445.01,30.90 L445.41,29.70 L446.21,28.90 L447.01,28.50 L448.21,28.50M452.49,28.50 L451.69,28.90 L450.89,29.70 L450.49,30.90 L450.49,31.70 L450.89,32.90 L451.69,33.70 L452.49,34.10 L453.69,34.10 L454.49,33.70 L455.29,32.90 L455.69,31.70 L455.69,30.90 L455.29,29.70 L454.49,28.90 L453.69,28.50 L452.49,28.50M458.78,28.50 L458.78,36.90M458.78,29.70 L459.58,28.90 L460.38,28.50 L461.58,28.50 L462.38,28.90 L463.18,29.70 L463.58,30.90 L463.58,31.70 L463.18,32.90 L462.38,33.70 L461.58,34.10 L460.38,34.10 L459.58,33.70 L458.78,32.90M466.34,25.70 L466.66,26.02 L466.98,25.70 L466.66,25.38 L466.34,25.70M466.66,28.50 L466.66,34.10M474.55,29.70 L473.75,28.90 L472.95,28.50 L471.75,28.50 L470.95,28.90 L470.15,29.70 L469.75,30.90 L469.75,31.70 L470.15,32.90 L470.95,33.70 L471.75,34.10 L472.95,34.10 L473.75,33.70 L474.55,32.90M478.35,33.70 L478.03,34.02 L477.71,33.70 L478.03,33.38 L478.35,33.70 L478.35,34.50 L478.03,35.30 L477.63,35.70" stroke="#3c3c3c" stroke-width="1.1"/>
<path d="M491.05,25.70 L490.25,25.70 L489.45,26.10 L489.05,27.30 L489.05,34.10M487.85,28.50 L490.65,28.50M495.28,28.50 L494.48,28.90 L493.68,29.70 L493.28,30.90 L493.28,31.70 L493.68,32.90 L494.48,33.70 L495.28,34.10 L496.48,34.10 L497.28,33.70 L498.08,32.90 L498.48,31.70 L498.48,30.90 L498.08,29.70 L497.28,28.90 L496.48,28.50 L495.28,28.50M505.91,29.70 L505.11,28.90 L504.31,28.50 L503.11,28.50 L502.31,28.90 L501.51,29.70 L501.11,30.90 L501.11,31.70 L501.51,32.90 L502.31,33.70 L503.11,34.10 L504.31,34.10 L505.11,33.70 L505.91,32.90M508.94,28.50 L508.94,32.50 L509.34,33.70 L510.14,34.10 L511.34,34.10 L512.14,33.70 L513.34,32.50M513.34,28.50 L513.34,34.10M520.76,29.70 L520.36,28.90 L519.16,28.50 L517.96,28.50 L516.76,28.90 L516.36,29.70 L516.76,30.50 L517.56,30.90 L519.56,31.30 L520.36,31.70 L520.76,32.50 L520.76,32.90 L520.36,33.70 L519.16,34.10 L517.96,34.10 L516.76,33.70 L516.36,32.90M523.47,25.70 L523.79,26.02 L524.11,25.70 L523.79,25.38 L523.47,25.70M523.79,28.50 L523.79,34.10M527.22,28.50 L527.22,34.10M527.22,30.10 L528.42,28.90 L529.22,28.50 L530.42,28.50 L531.22,28.90 L531.62,30.10 L531.62,34.10M539.45,28.50 L539.45,34.90 L539.05,36.10 L538.65,36.50 L537.85,36.90 L536.65,36.90 L535.85,36.50M539.45,29.70 L538.65,28.90 L537.85,28.50 L536.65,28.50 L535.85,28.90 L535.05,29.70 L534.65,30.90 L534.65,31.70 L535.05,32.90 L535.85,33.70 L536.65,34.10 L537.85,34.10 L538.65,33.70 L539.45,32.90" stroke="#3c3c3c" stroke-width="1.1"/>
<path d="M421.55,39.00 L421.87,39.32 L422.19,39.00 L421.87,38.68 L421.55,39.00M421.87,41.80 L421.87,47.40M429.35,43.00 L428.95,42.20 L427.75,41.80 L426.55,41.80 L425.35,42.20 L424.95,43.00 L425.35,43.80 L426.15,44.20 L428.15,44.60 L428.95,45.00 L429.35,45.80 L429.35,46.20 L428.95,47.00 L427.75,47.40 L426.55,47.40 L425.35,47.00 L424.95,46.20M434.04,41.80 L433.24,42.20 L432.44,43.00 L432.04,44.20 L432.04,45.00 L432.44,46.20 L433.24,47.00 L434.04,47.40 L435.24,47.40 L436.04,47.00 L436.84,46.20 L437.24,45.00 L437.24,44.20 L436.84,43.00 L436.04,42.20 L435.24,41.80 L434.04,41.80M440.72,39.00 L440.72,45.80 L441.12,47.00 L441.92,47.40 L442.72,47.40M439.52,41.80 L442.32,41.80M445.01,41.80 L445.01,47.40M445.01,44.20 L445.41,43.00 L446.21,42.20 L447.01,41.80 L448.21,41.80M452.49,41.80 L451.69,42.20 L450.89,43.00 L450.49,44.20 L450.49,45.00 L450.89,46.20 L451.69,47.00 L452.49,47.40 L453.69,47.40 L454.49,47.00 L455.29,46.20 L455.69,45.00 L455.69,44.20 L455.29,43.00 L454.49,42.20 L453.69,41.80 L452.49,41.80M458.78,41.80 L458.78,50.20M458.78,43.00 L459.58,42.20 L460.38,41.80 L461.58,41.80 L462.38,42.20 L463.18,43.00 L463.58,44.20 L463.58,45.00 L463.18,46.20 L462.38,47.00 L461.58,47.40 L460.38,47.40 L459.58,47.00 L458.78,46.20M466.34,39.00 L466.66,39.32 L466.98,39.00 L466.66,38.68 L466.34,39.00M466.66,41.80 L466.66,47.40M474.55,43.00 L473.75,42.20 L472.95,41.80 L471.75,41.80 L470.95,42.20 L470.15,43.00 L469.75,44.20 L469.75,45.00 L470.15,46.20 L470.95,47.00 L471.75,47.40 L472.95,47.40 L473.75,47.00 L474.55,46.20M478.35,47.00 L478.03,47.32 L477.71,47.00 L478.03,46.68 L478.35,47.00 L478.35,47.80 L478.03,48.60 L477.63,49.00" stroke="#3c3c3c" stroke-width="1.1"/>
<path d="M487.85,41.80 L487.85,47.40M487.85,43.40 L489.05,42.20 L489.85,41.80 L491.05,41.80 L491.85,42.20 L492.25,43.40 L492.25,47.40M497.55,41.80 L496.75,42.20 L495.95,43.00 L495.55,44.20 L495.55,45.00 L495.95,46.20 L496.75,47.00 L497.55,47.40 L498.75,47.40 L499.55,47.00 L500.35,46.20 L500.75,45.00 L500.75,44.20 L500.35,43.00 L499.55,42.20 L498.75,41.80 L497.55,41.80" stroke="#3c3c3c" stroke-width="1.1"/>
<path d="M513.55,39.00 L512.75,39.00 L511.95,39.40 L511.55,40.60 L511.55,47.40M510.35,41.80 L513.15,41.80M517.82,41.80 L517.02,42.20 L516.22,43.00 L515.82,44.20 L515.82,45.00 L516.22,46.20 L517.02,47.00 L517.82,47.40 L519.02,47.40 L519.82,47.00 L520.62,46.20 L521.02,45.00 L521.02,44.20 L520.62,43.00 L519.82,42.20 L519.02,41.80 L517.82,41.80M528.49,43.00 L527.69,42.20 L526.89,41.80 L525.69,41.80 L524.89,42.20 L524.09,43.00 L523.69,44.20 L523.69,45.00 L524.09,46.20 L524.89,47.00 L525.69,47.40 L526.89,47.40 L527.69,47.00 L528.49,46.20M531.56,41.80 L531.56,45.80 L531.96,47.00 L532.76,47.40 L533.96,47.40 L534.76,47.00 L535.96,45.80M535.96,41.80 L535.96,47.40M543.44,43.00 L543.04,42.20 L541.84,41.80 L540.64,41.80 L539.44,42.20 L539.04,43.00 L539.44,43.80 L540.24,44.20 L542.24,44.60 L543.04,45.00 L543.44,45.80 L543.44,46.20 L543.04,47.00 L541.84,47.40 L540.64,47.40 L539.44,47.00 L539.04,46.20M546.19,39.00 L546.51,39.32 L546.83,39.00 L546.51,38.68 L546.19,39.00M546.51,41.80 L546.51,47.40M549.98,41.80 L549.98,47.40M549.98,43.40 L551.18,42.20 L551.98,41.80 L553.18,41.80 L553.98,42.20 L554.38,43.40 L554.38,47.40M562.25,41.80 L562.25,48.20 L561.85,49.40 L561.45,49.80 L560.65,50.20 L559.45,50.20 L558.65,49.80M562.25,43.00 L561.45,42.20 L560.65,41.80 L559.45,41.80 L558.65,42.20 L557.85,43.00 L557.45,44.20 L557.45,45.00 L557.85,46.20 L558.65,47.00 L559.45,47.40 L560.65,47.40 L561.45,47.00 L562.25,46.20" stroke="#3c3c3c" stroke-width="1.1"/>
<path d="M423.45,52.80 L422.65,53.20 L421.85,54.00 L421.45,54.80 L421.05,56.00 L421.05,58.00 L421.45,59.20 L421.85,60.00 L422.65,60.80 L423.45,61.20 L425.05,61.20 L425.85,60.80 L426.65,60.00 L427.05,59.20 L427.45,58.00 L427.45,56.00 L427.05,54.80 L426.65,54.00 L425.85,53.20 L425.05,52.80 L423.45,52.80M424.65,59.60 L427.05,62.00M430.51,52.80 L430.51,61.20 L435.31,61.20M439.17,52.80 L439.17,61.20M436.37,52.80 L441.97,52.80M444.95,60.80 L444.63,61.12 L444.31,60.80 L444.63,60.48 L444.95,60.80 L444.95,61.60 L444.63,62.40 L444.23,62.80" stroke="#3c3c3c" stroke-width="1.1"/>
<path d="M458.35,52.80 L457.55,52.80 L456.75,53.20 L456.35,54.40 L456.35,61.20M455.15,55.60 L457.95,55.60M462.65,55.60 L461.85,56.00 L461.05,56.80 L460.65,58.00 L460.65,58.80 L461.05,60.00 L461.85,60.80 L462.65,61.20 L463.85,61.20 L464.65,60.80 L465.45,60.00 L465.85,58.80 L465.85,58.00 L465.45,56.80 L464.65,56.00 L463.85,55.60 L462.65,55.60M473.35,56.80 L472.55,56.00 L471.75,55.60 L470.55,55.60 L469.75,56.00 L468.95,56.80 L468.55,58.00 L468.55,58.80 L468.95,60.00 L469.75,60.80 L470.55,61.20 L471.75,61.20 L472.55,60.80 L473.35,60.00M476.45,55.60 L476.45,59.60 L476.85,60.80 L477.65,61.20 L478.85,61.20 L479.65,60.80 L480.85,59.60M480.85,55.60 L480.85,61.20M488.35,56.80 L487.95,56.00 L486.75,55.60 L485.55,55.60 L484.35,56.00 L483.95,56.80 L484.35,57.60 L485.15,58.00 L487.15,58.40 L487.95,58.80 L488.35,59.60 L488.35,60.00 L487.95,60.80 L486.75,61.20 L485.55,61.20 L484.35,60.80 L483.95,60.00M491.13,52.80 L491.45,53.12 L491.77,52.80 L491.45,52.48 L491.13,52.80M491.45,55.60 L491.45,61.20M494.95,55.60 L494.95,61.20M494.95,57.20 L496.15,56.00 L496.95,55.60 L498.15,55.60 L498.95,56.00 L499.35,57.20 L499.35,61.20M507.25,55.60 L507.25,62.00 L506.85,63.20 L506.45,63.60 L505.65,64.00 L504.45,64.00 L503.65,63.60M507.25,56.80 L506.45,56.00 L505.65,55.60 L504.45,55.60 L503.65,56.00 L502.85,56.80 L502.45,58.00 L502.45,58.80 L502.85,60.00 L503.65,60.80 L504.45,61.20 L505.65,61.20 L506.45,60.80 L507.25,60.00" stroke="#3c3c3c" stroke-width="1.1"/>
<path d="M423.45,65.60 L422.65,66.00 L421.85,66.80 L421.45,67.60 L421.05,68.80 L421.05,70.80 L421.45,72.00 L421.85,72.80 L422.65,73.60 L423.45,74.00 L425.05,74.00 L425.85,73.60 L426.65,72.80 L427.05,72.00 L427.45,70.80 L427.45,68.80 L427.05,67.60 L426.65,66.80 L425.85,66.00 L425.05,65.60 L423.45,65.60M424.65,72.40 L427.05,74.80M430.51,65.60 L430.51,74.00 L435.31,74.00M439.17,65.60 L439.17,74.00M436.37,65.60 L441.97,65.60M444.95,73.60 L444.63,73.92 L444.31,73.60 L444.63,73.28 L444.95,73.60 L444.95,74.40 L444.63,75.20 L444.23,75.60" stroke="#3c3c3c" stroke-width="1.1"/>
<path d="M455.15,68.40 L455.15,74.00M455.15,70.00 L456.35,68.80 L457.15,68.40 L458.35,68.40 L459.15,68.80 L459.55,70.00 L459.55,74.00M464.75,68.40 L463.95,68.80 L463.15,69.60 L462.75,70.80 L462.75,71.60 L463.15,72.80 L463.95,73.60 L464.75,74.00 L465.95,74.00 L466.75,73.60 L467.55,72.80 L467.95,71.60 L467.95,70.80 L467.55,69.60 L466.75,68.80 L465.95,68.40 L464.75,68.40" stroke="#3c3c3c" stroke-width="1.1"/>
<path d="M480.95,65.60 L480.15,65.60 L479.35,66.00 L478.95,67.20 L478.95,74.00M477.75,68.40 L480.55,68.40M485.22,68.40 L484.42,68.80 L483.62,69.60 L483.22,70.80 L483.22,71.60 L483.62,72.80 L484.42,73.60 L485.22,74.00 L486.42,74.00 L487.22,73.60 L488.02,72.80 L488.42,71.60 L488.42,70.80 L488.02,69.60 L487.22,68.80 L486.42,68.40 L485.22,68.40M495.89,69.60 L495.09,68.80 L494.29,68.40 L493.09,68.40 L492.29,68.80 L491.49,69.60 L491.09,70.80 L491.09,71.60 L491.49,72.80 L492.29,73.60 L493.09,74.00 L494.29,74.00 L495.09,73.60 L495.89,72.80M498.96,68.40 L498.96,72.40 L499.36,73.60 L500.16,74.00 L501.36,74.00 L502.16,73.60 L503.36,72.40M503.36,68.40 L503.36,74.00M510.84,69.60 L510.44,68.80 L509.24,68.40 L508.04,68.40 L506.84,68.80 L506.44,69.60 L506.84,70.40 L507.64,70.80 L509.64,71.20 L510.44,71.60 L510.84,72.40 L510.84,72.80 L510.44,73.60 L509.24,74.00 L508.04,74.00 L506.84,73.60 L506.44,72.80M513.59,65.60 L513.91,65.92 L514.23,65.60 L513.91,65.28 L513.59,65.60M513.91,68.40 L513.91,74.00M517.38,68.40 L517.38,74.00M517.38,70.00 L518.58,68.80 L519.38,68.40 L520.58,68.40 L521.38,68.80 L521.78,70.00 L521.78,74.00M529.65,68.40 L529.65,74.80 L529.25,76.00 L528.85,76.40 L528.05,76.80 L526.85,76.80 L526.05,76.40M529.65,69.60 L528.85,68.80 L528.05,68.40 L526.85,68.40 L526.05,68.80 L525.25,69.60 L524.85,70.80 L524.85,71.60 L525.25,72.80 L526.05,73.60 L526.85,74.00 L528.05,74.00 L528.85,73.60 L529.65,72.80" stroke="#3c3c3c" stroke-width="1.1"/>
<path transform="rotate(-90)" d="M-328.70,2.70 L-328.70,15.40M-328.70,2.70 L-323.25,2.70 L-321.44,3.30 L-320.83,3.91 L-320.23,5.12 L-320.23,6.33 L-320.83,7.54 L-321.44,8.14 L-323.25,8.75 L-328.70,8.75M-324.46,8.75 L-320.23,15.40M-308.40,6.93 L-308.40,15.40M-308.40,8.75 L-309.61,7.54 L-310.82,6.93 L-312.64,6.93 L-313.85,7.54 L-315.06,8.75 L-315.66,10.56 L-315.66,11.77 L-315.06,13.59 L-313.85,14.79 L-312.64,15.40 L-310.82,15.40 L-309.61,14.79 L-308.40,13.59M-296.57,2.70 L-296.57,15.40M-296.57,8.75 L-297.78,7.54 L-298.99,6.93 L-300.81,6.93 L-302.02,7.54 L-303.23,8.75 L-303.83,10.56 L-303.83,11.77 L-303.23,13.59 L-302.02,14.79 L-300.81,15.40 L-298.99,15.40 L-297.78,14.79 L-296.57,13.59M-291.88,2.70 L-291.40,3.18 L-290.92,2.70 L-291.40,2.21 L-291.88,2.70M-291.40,6.93 L-291.40,15.40M-279.57,6.93 L-279.57,15.40M-279.57,8.75 L-280.78,7.54 L-281.99,6.93 L-283.81,6.93 L-285.02,7.54 L-286.23,8.75 L-286.83,10.56 L-286.83,11.77 L-286.23,13.59 L-285.02,14.79 L-283.81,15.40 L-281.99,15.40 L-280.78,14.79 L-279.57,13.59M-274.40,2.70 L-274.40,15.40" stroke="#3c3c3c" stroke-width="1.2"/>
<path transform="rotate(-90)" d="M-260.30,2.70 L-260.30,15.40M-260.30,2.70 L-255.46,15.40M-250.62,2.70 L-255.46,15.40M-250.62,2.70 L-250.62,15.40M-245.44,10.56 L-238.18,10.56 L-238.18,9.35 L-238.78,8.14 L-239.39,7.54 L-240.60,6.93 L-242.41,6.93 L-243.62,7.54 L-244.83,8.75 L-245.44,10.56 L-245.44,11.77 L-244.83,13.59 L-243.62,14.79 L-242.41,15.40 L-240.60,15.40 L-239.39,14.79 L-238.18,13.59M-226.34,6.93 L-226.34,15.40M-226.34,8.75 L-227.55,7.54 L-228.76,6.93 L-230.58,6.93 L-231.79,7.54 L-233.00,8.75 L-233.60,10.56 L-233.60,11.77 L-233.00,13.59 L-231.79,14.79 L-230.58,15.40 L-228.76,15.40 L-227.55,14.79 L-226.34,13.59M-220.56,6.93 L-220.56,15.40M-220.56,9.35 L-218.74,7.54 L-217.53,6.93 L-215.71,6.93 L-214.50,7.54 L-213.90,9.35 L-213.90,15.40" stroke="#3c3c3c" stroke-width="1.2"/>
<path transform="rotate(-90)" d="M-199.50,2.70 L-199.50,15.40M-199.50,2.70 L-191.63,2.70M-199.50,8.75 L-194.66,8.75M-188.85,6.93 L-188.85,15.40M-188.85,10.56 L-188.24,8.75 L-187.03,7.54 L-185.82,6.93 L-184.01,6.93M-180.62,10.56 L-173.36,10.56 L-173.36,9.35 L-173.96,8.14 L-174.57,7.54 L-175.78,6.93 L-177.59,6.93 L-178.80,7.54 L-180.01,8.75 L-180.62,10.56 L-180.62,11.77 L-180.01,13.59 L-178.80,14.79 L-177.59,15.40 L-175.78,15.40 L-174.57,14.79 L-173.36,13.59M-169.36,10.56 L-162.10,10.56 L-162.10,9.35 L-162.71,8.14 L-163.31,7.54 L-164.52,6.93 L-166.34,6.93 L-167.55,7.54 L-168.75,8.75 L-169.36,10.56 L-169.36,11.77 L-168.75,13.59 L-167.55,14.79 L-166.34,15.40 L-164.52,15.40 L-163.31,14.79 L-162.10,13.59" stroke="#3c3c3c" stroke-width="1.2"/>
<path transform="rotate(-90)" d="M-146.80,2.70 L-146.80,15.40M-146.80,2.70 L-141.36,2.70 L-139.54,3.30 L-138.94,3.91 L-138.33,5.12 L-138.33,6.93 L-138.94,8.14 L-139.54,8.75 L-141.36,9.35 L-146.80,9.35M-126.78,6.93 L-126.78,15.40M-126.78,8.75 L-127.99,7.54 L-129.20,6.93 L-131.01,6.93 L-132.22,7.54 L-133.43,8.75 L-134.03,10.56 L-134.03,11.77 L-133.43,13.59 L-132.22,14.79 L-131.01,15.40 L-129.20,15.40 L-127.99,14.79 L-126.78,13.59M-121.27,2.70 L-121.27,12.98 L-120.67,14.79 L-119.46,15.40 L-118.25,15.40M-123.09,6.93 L-118.85,6.93M-114.56,2.70 L-114.56,15.40M-114.56,9.35 L-112.74,7.54 L-111.53,6.93 L-109.72,6.93 L-108.50,7.54 L-107.90,9.35 L-107.90,15.40" stroke="#3c3c3c" stroke-width="1.2"/>
<path transform="rotate(-90)" d="M-94.10,2.70 L-92.89,2.70 L-91.68,3.30 L-91.08,4.51 L-86.84,15.40M-89.87,7.54 L-94.10,15.40" stroke="#3c3c3c" stroke-width="1.2"/>
<path transform="rotate(-90)" d="M-84.20,14.66 L-84.20,18.30M-84.20,16.22 L-83.94,15.44 L-83.42,14.92 L-82.90,14.66 L-82.12,14.66" stroke="#3c3c3c" stroke-width="1.0"/>
<path transform="rotate(-90)" d="M-64.77,0.28 L-65.97,1.49 L-67.19,3.30 L-68.39,5.72 L-69.00,8.75 L-69.00,11.17 L-68.39,14.19 L-67.19,16.61 L-65.97,18.43 L-64.77,19.63M-57.17,2.70 L-62.01,15.40M-57.17,2.70 L-52.33,15.40M-60.20,11.17 L-54.15,11.17M-48.97,2.70 L-48.97,11.77 L-48.37,13.59 L-47.16,14.79 L-45.34,15.40 L-44.13,15.40 L-42.32,14.79 L-41.11,13.59 L-40.50,11.77 L-40.50,2.70M-35.94,0.28 L-34.73,1.49 L-33.52,3.30 L-32.31,5.72 L-31.70,8.75 L-31.70,11.17 L-32.31,14.19 L-33.52,16.61 L-34.73,18.43 L-35.94,19.63" stroke="#3c3c3c" stroke-width="1.2"/>
</g>
<line x1="391.7" y1="33.2" x2="415.4" y2="33.2" stroke="#000" stroke-width="2"/>
<line x1="392.3" y1="46.4" x2="415" y2="46.4" stroke="#000" stroke-width="1.9" stroke-linecap="round" stroke-dasharray="0.3 4.78"/>
<line x1="391.9" y1="59.9" x2="415" y2="59.9" stroke="#000" stroke-width="2" stroke-dasharray="6.9 7.2"/>
<line x1="391.9" y1="73.3" x2="415" y2="73.3" stroke="#000" stroke-width="2" stroke-dasharray="6.9 3.6 2 3.5"/>
</svg></body></html>
